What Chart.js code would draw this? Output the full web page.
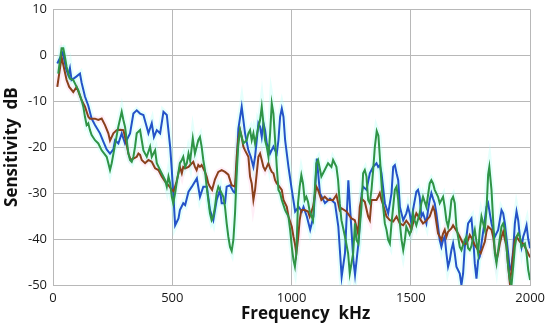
<!DOCTYPE html>
<html>
<head>
<meta charset="utf-8">
<script src="https://cdn.jsdelivr.net/npm/chart.js@4/dist/chart.umd.min.js"></script>
<style>
    html, body { margin: 0; padding: 0; background: #fff; }
    #wrap { width: 550px; height: 332px; }
</style>
</head>
<body>
<div id="wrap"><canvas id="sensChart" width="550" height="332"></canvas></div>
<script>
// Sensitivity curves (kHz, dB)
const blueKhz = [18, 41, 55, 64, 71, 78, 99, 113, 120, 134, 148, 162, 176, 197, 211, 225, 239, 253, 260, 274, 288, 302, 323, 337, 351, 365, 379, 393, 400, 414, 423, 435, 449, 463, 477, 491, 498, 504, 512, 526, 532, 546, 554, 568, 582, 603, 616, 630, 645, 658, 672, 686, 700, 707, 721, 728, 742, 756, 763, 770, 777, 791, 798, 805, 819, 829, 840, 847, 854, 861, 868, 875, 882, 889, 896, 903, 910, 924, 931, 938, 945, 952, 959, 966, 973, 987, 1001, 1015, 1030, 1043, 1050, 1064, 1078, 1092, 1099, 1106, 1119, 1140, 1161, 1182, 1196, 1210, 1224, 1238, 1259, 1266, 1280, 1294, 1300, 1314, 1328, 1342, 1356, 1363, 1370, 1377, 1391, 1405, 1419, 1426, 1433, 1440, 1447, 1454, 1468, 1481, 1488, 1495, 1502, 1509, 1523, 1530, 1537, 1544, 1551, 1565, 1572, 1579, 1586, 1593, 1600, 1607, 1621, 1628, 1635, 1642, 1649, 1656, 1663, 1670, 1677, 1684, 1691, 1705, 1712, 1719, 1726, 1733, 1740, 1754, 1761, 1768, 1775, 1782, 1789, 1796, 1810, 1817, 1824, 1831, 1838, 1852, 1866, 1880, 1887, 1894, 1908, 1915, 1922, 1929, 1936, 1943, 1950, 1957, 1964, 1971, 1978, 1985, 1992, 2000];
const blueDb = [-1.8, 0.6, -3, -4.3, -2.8, -5.4, -4.6, -4, -6, -9, -11, -13.8, -15.2, -17, -18.8, -20.5, -21.4, -20.5, -18.5, -19.2, -17, -19.2, -17, -12.7, -12, -12.7, -13, -15.6, -17, -14.8, -17.8, -16.3, -17, -12.3, -13, -19.9, -25, -30, -37, -35.5, -33.7, -32.2, -32.6, -29.7, -28.6, -26.8, -30.8, -28.6, -28.6, -33.7, -35.9, -31.5, -29.3, -32.2, -32.2, -28.6, -28.3, -29.7, -30, -24, -16, -11.2, -14.1, -17, -20.7, -22.1, -24.3, -22.1, -18.5, -14.8, -15.6, -17.8, -14.8, -16.3, -19.2, -19.9, -21.4, -19.9, -20.7, -21.4, -18.5, -13.4, -11.6, -13.4, -18.5, -24.3, -29.3, -34, -33, -34, -33, -35.1, -38, -35, -29, -22.5, -30, -32.2, -31.2, -32.2, -37.3, -48.2, -43, -27.2, -44.6, -47.8, -41, -30, -28.6, -29.3, -25.7, -24.3, -23.5, -24.3, -23.9, -25.7, -32.2, -34.4, -30, -24.3, -23.9, -25.7, -27.2, -33, -35.9, -34.4, -33, -34.4, -36.6, -33.7, -29.7, -29.3, -30.8, -35.1, -34.4, -36.6, -33.7, -31.5, -30, -31.2, -32.2, -34.4, -40.2, -41.7, -40.2, -39.5, -43.1, -46, -44.6, -42.4, -40.9, -43.1, -46, -47.5, -50, -47.5, -41.7, -39.5, -36.6, -35.5, -39.5, -45.3, -48.6, -44.6, -43.8, -41, -35.9, -33, -32.2, -34.4, -36.6, -39.5, -38, -33.7, -34.4, -36.6, -43.1, -46.7, -46, -42.4, -36.6, -34, -35.9, -39.5, -41.7, -39.5, -38.4, -37, -40, -42];

const brownKhz = [18, 36, 57, 68, 85, 99, 120, 134, 148, 155, 176, 190, 204, 218, 232, 239, 253, 267, 281, 295, 302, 316, 326, 337, 351, 358, 365, 372, 386, 400, 414, 428, 442, 456, 470, 484, 498, 506, 518, 526, 532, 540, 546, 554, 568, 575, 588, 595, 602, 609, 616, 623, 630, 637, 644, 651, 658, 667, 679, 693, 707, 721, 735, 749, 763, 770, 776, 784, 791, 798, 805, 819, 826, 833, 840, 847, 854, 861, 868, 875, 882, 889, 896, 903, 910, 917, 924, 931, 938, 945, 959, 966, 980, 987, 1001, 1008, 1014, 1020, 1027, 1034, 1041, 1055, 1069, 1076, 1090, 1104, 1111, 1125, 1139, 1153, 1174, 1188, 1202, 1209, 1230, 1251, 1265, 1279, 1286, 1293, 1307, 1321, 1328, 1335, 1356, 1363, 1370, 1377, 1384, 1398, 1412, 1426, 1440, 1454, 1468, 1481, 1495, 1502, 1509, 1523, 1537, 1551, 1565, 1579, 1593, 1600, 1614, 1628, 1635, 1642, 1649, 1656, 1670, 1677, 1698, 1705, 1719, 1733, 1740, 1747, 1754, 1768, 1782, 1793, 1810, 1817, 1824, 1838, 1845, 1852, 1859, 1866, 1873, 1880, 1887, 1901, 1908, 1915, 1922, 1929, 1936, 1943, 1957, 1971, 1985, 2000];
const brownDb = [-6.9, -0.4, -5.4, -6.9, -8, -6.9, -9.8, -11.2, -13.4, -13.8, -13.8, -14.1, -13.8, -15.2, -17, -18.6, -17, -16.3, -16.2, -16.3, -17.8, -21.4, -22.8, -22.5, -22.1, -21.4, -21.7, -22.8, -23.5, -22.8, -23.2, -24.6, -25, -26.4, -27.5, -28.3, -29.3, -29.6, -27.5, -25.7, -24.3, -25.7, -24.3, -24.6, -24.3, -23.9, -23.2, -24.3, -25, -23.9, -24.3, -23.9, -24.6, -25.4, -26.4, -27.9, -28.6, -29.3, -27, -25.4, -25, -25.4, -26, -28.3, -28.6, -22.1, -18.5, -16.3, -17.8, -19.9, -20.7, -22.1, -26.4, -27.9, -31.5, -29.3, -25.7, -22.1, -21.4, -22.8, -24.3, -25, -24.3, -23.5, -24.6, -25.4, -25.7, -27.2, -27.9, -28.3, -29.3, -31.5, -33, -35.1, -37.3, -39.5, -41, -43.1, -40, -35.9, -33.7, -33.7, -34, -35.1, -33, -28.6, -29.3, -31.5, -30.8, -31.5, -31.5, -30.4, -33.7, -33.3, -34, -35.5, -35.9, -38.8, -33, -31.2, -31.9, -35.1, -35.9, -31.5, -31.5, -30.8, -30, -31.5, -32.6, -35.1, -35.9, -36.2, -35.1, -36.6, -37, -36, -37, -38, -36.6, -34.4, -35.5, -36.6, -36, -35.1, -33, -34, -38.8, -40.2, -38.8, -38, -39.5, -38.4, -37.7, -37, -38.8, -39.5, -41, -41, -40.2, -39.1, -39.7, -41.3, -42.4, -43.1, -40.6, -38.4, -37.3, -38, -39.5, -42.4, -44.6, -43.1, -41, -39.5, -38.4, -41.7, -46, -49.6, -46.7, -43.1, -40.2, -39.5, -40.6, -41, -42.4, -44];

const greenKhz = [22, 36, 43, 50, 57, 64, 71, 85, 99, 106, 120, 127, 134, 141, 148, 155, 162, 176, 190, 204, 225, 232, 239, 246, 260, 274, 288, 295, 302, 309, 316, 323, 330, 337, 344, 351, 365, 372, 379, 393, 407, 414, 428, 435, 449, 470, 477, 484, 491, 498, 504, 512, 518, 532, 540, 546, 554, 561, 568, 575, 586, 595, 609, 616, 623, 630, 637, 644, 651, 658, 665, 672, 679, 686, 693, 700, 714, 721, 728, 735, 742, 749, 756, 763, 770, 776, 784, 791, 798, 812, 819, 826, 833, 840, 847, 861, 868, 875, 882, 889, 896, 903, 910, 917, 924, 931, 938, 945, 952, 959, 973, 987, 994, 1001, 1008, 1014, 1020, 1027, 1034, 1041, 1048, 1055, 1062, 1069, 1076, 1090, 1104, 1111, 1125, 1132, 1153, 1167, 1174, 1188, 1195, 1202, 1209, 1224, 1237, 1244, 1258, 1266, 1272, 1280, 1293, 1300, 1307, 1314, 1321, 1328, 1335, 1342, 1349, 1357, 1364, 1370, 1377, 1384, 1391, 1398, 1405, 1412, 1419, 1426, 1433, 1440, 1447, 1454, 1461, 1468, 1475, 1481, 1495, 1502, 1509, 1516, 1523, 1537, 1544, 1551, 1565, 1579, 1586, 1593, 1600, 1614, 1621, 1635, 1642, 1649, 1656, 1663, 1670, 1677, 1684, 1691, 1698, 1705, 1712, 1726, 1733, 1740, 1747, 1754, 1761, 1768, 1782, 1789, 1796, 1810, 1817, 1824, 1829, 1838, 1845, 1852, 1859, 1866, 1880, 1887, 1894, 1901, 1908, 1915, 1922, 1929, 1936, 1943, 1950, 1957, 1964, 1978, 1985, 1992, 2000];
const greenDb = [-4, 1.5, 1.5, -0.4, -2.5, -4, -5.1, -5.4, -6.9, -7.6, -9.8, -11.2, -13.4, -15.2, -14.8, -16.3, -17.4, -18.5, -19.2, -20.7, -22.1, -23.5, -25, -23.5, -19.5, -15.5, -12.3, -14.1, -15.6, -18.5, -21.4, -22.8, -23.2, -22.1, -19.9, -17, -16.3, -18.5, -20.7, -22.1, -19.9, -22.1, -20.7, -23.5, -25, -27.2, -28.6, -26.4, -27.9, -30.8, -32.2, -30, -27.9, -23.5, -22.8, -22.1, -24.3, -23.5, -21.4, -23, -18.1, -21.4, -18.5, -17.8, -19.9, -22.8, -25, -28.6, -31.5, -34.4, -35.9, -35.1, -33, -30, -28.6, -29.3, -30.8, -33, -36.6, -39.5, -41.7, -42.6, -40.2, -34.4, -25.7, -19.9, -16.3, -17.8, -19.2, -18.5, -17, -16.3, -18.5, -17, -19.2, -15.6, -14.1, -11.2, -14.8, -18.5, -19.9, -22.1, -17, -10.5, -12.7, -18.5, -24.3, -29.3, -30, -31.5, -33.7, -35.1, -38, -41.7, -44.6, -46, -43.1, -32.2, -28.6, -26.1, -27.9, -31.5, -30.8, -31.9, -34, -35.9, -23.5, -22.8, -26.4, -25.7, -23.5, -24.3, -22.8, -24.3, -27.2, -32.2, -35.9, -39.5, -43.1, -47.5, -43.1, -36.6, -40.2, -41, -33, -25.7, -25, -26.4, -31.5, -32.2, -29.3, -25, -20, -16.5, -17.5, -22.1, -27.9, -33, -36.6, -38, -40.2, -41, -36.6, -33, -29.3, -28.6, -31.5, -36.6, -40.2, -42.4, -40.2, -37.3, -39, -38, -34.4, -35.9, -37, -34.4, -32.2, -30.8, -33, -27.9, -27.2, -27.9, -29.3, -30.8, -32.2, -30.8, -33, -35.9, -37.3, -35.1, -31.5, -30.8, -32.2, -37.3, -39.5, -41.7, -42.4, -40.2, -39.5, -42, -42.4, -41.5, -39.5, -38, -43.1, -38, -35.1, -38, -33.7, -26, -24.3, -29.3, -35.9, -43.1, -45.3, -42.4, -37.3, -36.6, -38, -41.7, -46, -48.9, -50, -46, -41.7, -39.5, -38.8, -39.5, -41.7, -41, -43.1, -46.7, -48.9];

const xTicks = [0, 500, 1000, 1500, 2000];
const yTicks = [10, 0, -10, -20, -30, -40, -50];
const xTitle = 'Frequency  kHz';
const yTitle = 'Sensitivity  dB';

const BLUE = '#2453c8';
const BROWN = '#8a401c';
const GREEN = '#2f9446';
const HALO_CYAN = 'rgba(170, 255, 245, 0.3)';
const HALO_PINK = 'rgba(255, 200, 228, 0.3)';
const GRID = '#b8b8b8';
const FONT = 'Open Sans';

// Pair up frequency and level arrays into {x, y} points
function toPoints(khz, db) {
    return khz.map((f, i) => ({ x: f, y: db[i] }));
}

function lineSet(label, khz, db, color, width, order) {
    return {
        label: label,
        data: toPoints(khz, db),
        borderColor: color,
        borderWidth: width,
        pointRadius: 0,
        tension: 0,
        fill: false,
        order: order
    };
}

// x axis title sits a little right of centre in the original
const xTitlePlugin = {
    id: 'xTitle',
    afterDraw(chart) {
        const { ctx, chartArea } = chart;
        ctx.save();
        ctx.font = 'bold 17px "' + FONT + '"';
        ctx.fillStyle = '#111';
        ctx.textAlign = 'center';
        ctx.textBaseline = 'middle';
        ctx.fillText(xTitle, (chartArea.left + chartArea.right) / 2 + 14, chartArea.bottom + 29);
        ctx.restore();
    }
};

const ctx = document.getElementById('sensChart').getContext('2d');

new Chart(ctx, {
    type: 'line',
    data: {
        datasets: [
            lineSet('green', greenKhz, greenDb, GREEN, 2, 1),
            lineSet('brown', brownKhz, brownDb, BROWN, 2, 2),
            lineSet('blue', blueKhz, blueDb, BLUE, 2, 3),
            // soft halos behind the lines
            lineSet('green halo', greenKhz, greenDb, HALO_CYAN, 6, 10),
            lineSet('brown halo', brownKhz, brownDb, HALO_PINK, 6, 11),
            lineSet('blue halo', blueKhz, blueDb, HALO_CYAN, 6, 12)
        ]
    },
    plugins: [xTitlePlugin],
    options: {
        responsive: false,
        animation: false,
        layout: { padding: { left: 0, right: 5, top: 0, bottom: 0 } },
        plugins: {
            legend: { display: false },
            tooltip: { enabled: false }
        },
        scales: {
            x: {
                type: 'linear',
                min: 0,
                max: 2000,
                afterBuildTicks: axis => { axis.ticks = xTicks.map(v => ({ value: v })); },
                afterFit: axis => { axis.height = 47; },
                ticks: {
                    color: '#1a1a1a',
                    font: { family: FONT, size: 13 },
                    padding: 5,
                    maxRotation: 0,
                    callback: v => String(v)
                },
                grid: { color: GRID, drawTicks: false },
                border: { color: GRID }
            },
            y: {
                min: -50,
                max: 10,
                afterBuildTicks: axis => { axis.ticks = yTicks.map(v => ({ value: v })); },
                afterFit: axis => { axis.width = 53; },
                ticks: {
                    color: '#1a1a1a',
                    // small lineHeight keeps the top label overhang tight
                    font: { family: FONT, size: 13, lineHeight: 0.5 },
                    padding: 6
                },
                grid: { color: GRID, drawTicks: false },
                border: { color: GRID },
                title: {
                    display: true,
                    text: yTitle,
                    color: '#111',
                    font: { family: FONT, size: 17, weight: 'bold' },
                    padding: { top: 2, bottom: 0 }
                }
            }
        }
    }
});
</script>
</body>
</html>
